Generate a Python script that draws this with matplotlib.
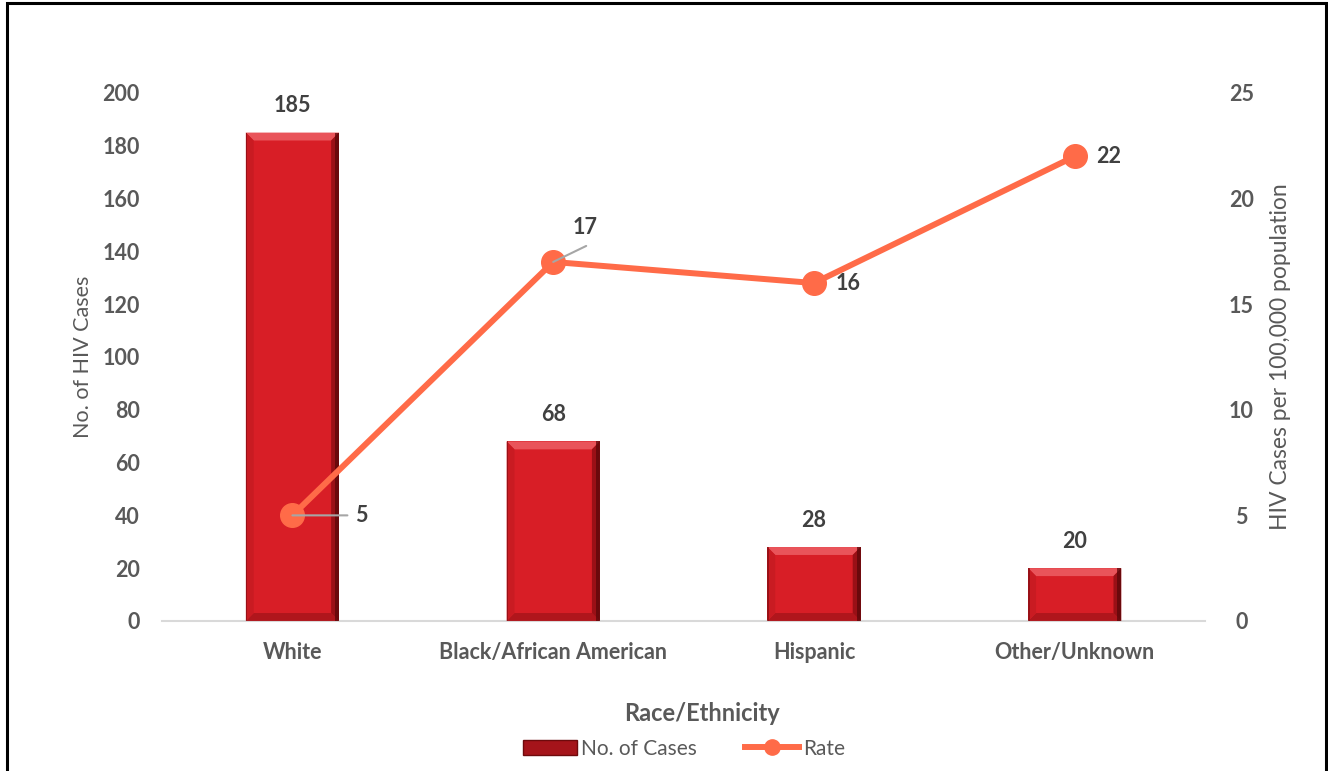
import matplotlib
matplotlib.use("Agg")
import matplotlib.pyplot as plt
from matplotlib.patches import Polygon, Rectangle
from matplotlib.lines import Line2D

# HIV cases by race/ethnicity
categories = ["White", "Black/African American", "Hispanic", "Other/Unknown"]
cases = [185, 68, 28, 20]
rates = [5, 17, 16, 22]

plt.rcParams["font.family"] = ["Lato", "DejaVu Sans"]

BAR = "#D81E26"
LINE = "#FF6B48"
TICK = "#595959"
LABEL = "#404040"

fig = plt.figure(figsize=(13.28, 7.71), dpi=100)
ax = fig.add_axes([0.122, 0.1946, 0.7855, 0.6848])
ax2 = ax.twinx()

x = list(range(len(categories)))
bars = ax.bar(x, cases, width=0.357, color=BAR, zorder=2)


def bevel(ax, rect, dx, dy):
    # fake a beveled look on a bar with shaded edge strips
    x0, y0 = rect.get_x(), rect.get_y()
    x1, y1 = x0 + rect.get_width(), y0 + rect.get_height()
    strips = [
        ([(x0, y1), (x1, y1), (x1 - dx, y1 - dy), (x0 + dx, y1 - dy)], "#E9545A"),
        ([(x0, y0), (x1, y0), (x1 - dx, y0 + dy), (x0 + dx, y0 + dy)], "#B0161C"),
        ([(x0, y0), (x0 + dx, y0 + dy), (x0 + dx, y1 - dy), (x0, y1)], "#C91B22"),
        ([(x1, y0), (x1 - dx, y0 + dy), (x1 - dx, y1 - dy), (x1, y1)], "#9A1016"),
    ]
    for pts, c in strips:
        ax.add_patch(Polygon(pts, closed=True, facecolor=c, edgecolor="none", zorder=3))
    # darker rim on the right and a thin one on the left
    ax.add_patch(Rectangle((x1 - dx * 0.5, y0), dx * 0.5, y1 - y0,
                           facecolor="#5A0709", edgecolor="none", zorder=3, alpha=0.75))
    ax.add_patch(Rectangle((x0, y0), dx * 0.2, y1 - y0,
                           facecolor="#7A0A0E", edgecolor="none", zorder=3, alpha=0.6))


for b in bars:
    bevel(ax, b, 0.03, 3.0)
    ax.annotate(f"{int(b.get_height())}", (b.get_x() + b.get_width() / 2, b.get_height()),
                xytext=(0, 27), textcoords="offset pixels", ha="center", va="center",
                fontsize=15.5, fontweight="bold", color=LABEL)

ax2.plot(x, rates, color=LINE, lw=4.3, marker="o", markersize=17, zorder=4)

# rate labels; the first two get short leader lines
offsets = [(69, 0), (32, 34), (34, 0), (34, 0)]
leader_ends = [(55, 0), (33, 16), None, None]
for xi, r, off, end in zip(x, rates, offsets, leader_ends):
    if end is not None:
        ax2.annotate("", (xi, r), xytext=end, textcoords="offset pixels", zorder=6,
                     arrowprops=dict(arrowstyle="-", color="#A6A6A6", lw=1.5,
                                     shrinkA=0, shrinkB=0))
    ax2.annotate(f"{r}", (xi, r), xytext=off, textcoords="offset pixels",
                 ha="center", va="center", fontsize=15.5, fontweight="bold",
                 color=LABEL, zorder=6)

ax.set_xlim(-0.5, 3.5)
ax.set_ylim(0, 200)
ax2.set_ylim(0, 25)
ax.set_yticks(range(0, 201, 20))
ax2.set_yticks(range(0, 26, 5))
ax.set_xticks(x)
ax.set_xticklabels(categories)

for a in (ax, ax2):
    for s in a.spines.values():
        s.set_visible(False)
    a.tick_params(length=0, labelsize=15.5, labelcolor=TICK)
    for t in a.get_xticklabels() + a.get_yticklabels():
        t.set_fontweight("bold")
ax.spines["bottom"].set_visible(True)
ax.spines["bottom"].set_color("#D9D9D9")
ax.spines["bottom"].set_linewidth(1.5)
ax.tick_params(axis="x", pad=15)
ax.tick_params(axis="y", pad=16)
ax2.tick_params(axis="y", pad=26)
for t in ax2.get_yticklabels():
    t.set_horizontalalignment("center")

ax.set_ylabel("No. of HIV Cases", fontsize=15.5, color=TICK, labelpad=7)
ax2.set_ylabel("HIV Cases per 100,000 population", fontsize=16.5, color=TICK, labelpad=12)
ax.set_xlabel("Race/Ethnicity", fontsize=17, fontweight="bold", color=TICK)
ax.xaxis.set_label_coords(0.518, -0.153)

handles = [
    Rectangle((0, 0), 1, 1, facecolor="#A5141A", edgecolor="#6E0A0C"),
    Line2D([], [], color=LINE, lw=4.3, marker="o", markersize=11),
]
fig.legend(handles, ["No. of Cases", "Rate"], loc="center", bbox_to_anchor=(0.515, 0.029),
           ncol=2, frameon=False, fontsize=15, labelcolor=TICK, handlelength=2.6,
           handletextpad=0.2, columnspacing=2.3)

# outer frame
fig.add_artist(Rectangle((0.0052, -0.05), 0.9933, 1.0458, transform=fig.transFigure,
                         fill=False, edgecolor="black", lw=2.2))

fig.savefig("out.png", dpi=100, facecolor="white")
